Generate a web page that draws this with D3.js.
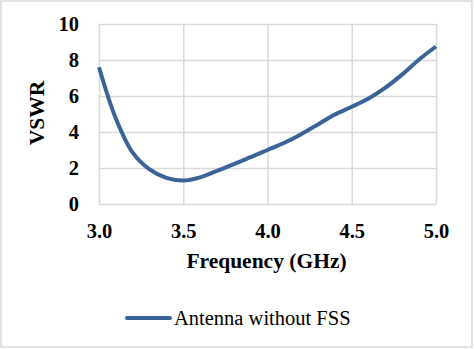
<!DOCTYPE html>
<html>
<head>
<meta charset="utf-8">
<script src="https://cdn.jsdelivr.net/npm/d3@7"></script>
<style>
  body { margin: 0; background: #fff; }
  svg { display: block; }
  svg text { font-family: "Liberation Serif", "Times New Roman", "DejaVu Serif", serif; }
</style>
</head>
<body>
<div id="chart"></div>
<script>
// frequency (GHz) and VSWR
const freqs = [3.0, 3.1, 3.2, 3.3, 3.4, 3.5, 3.6, 3.7, 3.8, 3.9, 4.0,
               4.1, 4.2, 4.3, 4.4, 4.5, 4.6, 4.7, 4.8, 4.9, 5.0];
const vswr = [7.6, 4.75, 2.85, 1.92, 1.45, 1.3, 1.48, 1.84, 2.22, 2.6, 3.0,
              3.4, 3.88, 4.42, 4.97, 5.4, 5.86, 6.46, 7.2, 8.03, 8.75];
const xTicks = [3.0, 3.5, 4.0, 4.5, 5.0];
const yTicks = [0, 2, 4, 6, 8, 10];
const seriesName = "Antenna without FSS";

const W = 474, H = 349;
const margin = { top: 24, right: 38, bottom: 145, left: 99 };
const width = W - margin.left - margin.right,
      height = H - margin.top - margin.bottom;

const lineColor = "#3a6396";
const gridColor = "#d9d9d9";
const serif = "Liberation Serif, Times New Roman, DejaVu Serif, serif";

const svg = d3.select("#chart")
    .append("svg")
    .attr("width", W)
    .attr("height", H);

// outer chart border
svg.append("rect")
    .attr("x", 1).attr("y", 1)
    .attr("width", W - 3).attr("height", H - 3)
    .attr("fill", "#fff")
    .attr("stroke", gridColor)
    .attr("stroke-width", 1.5);

const g = svg.append("g")
    .attr("transform", "translate(" + margin.left + "," + margin.top + ")");

const xScale = d3.scaleLinear().domain([3, 5]).range([0, width]);
const yScale = d3.scaleLinear().domain([0, 10]).range([height, 0]);

// grid + y labels
const yAxis = g.append("g")
    .call(d3.axisLeft(yScale).tickValues(yTicks).tickSize(-width).tickPadding(20)
        .tickFormat(d3.format("d")));
yAxis.attr("font-family", null);
yAxis.select(".domain").remove();
yAxis.selectAll("line").attr("stroke", gridColor).attr("stroke-width", 1.5);
yAxis.selectAll("text")
    .style("font-family", serif).attr("font-size", 20.5).attr("font-weight", "bold")
    .attr("fill", "#000");

const xAxis = g.append("g")
    .attr("transform", "translate(0," + height + ")")
    .call(d3.axisBottom(xScale).tickValues(xTicks).tickSize(-height).tickPadding(19)
        .tickFormat(d3.format(".1f")));
xAxis.attr("font-family", null);
xAxis.select(".domain").remove();
xAxis.selectAll("line").attr("stroke", gridColor).attr("stroke-width", 1.5);
xAxis.selectAll("text")
    .style("font-family", serif).attr("font-size", 20.5).attr("font-weight", "bold")
    .attr("fill", "#000");

// axis titles
g.append("text")
    .attr("x", width / 2 - 1)
    .attr("y", height + 64)
    .attr("text-anchor", "middle")
    .style("font-family", serif).attr("font-size", 21.5).attr("font-weight", "bold")
    .text("Frequency (GHz)");

g.append("text")
    .attr("transform", "translate(" + (-55) + "," + (height / 2 - 1) + ") rotate(-90)")
    .attr("text-anchor", "middle")
    .style("font-family", serif).attr("font-size", 21.5).attr("font-weight", "bold")
    .text("VSWR");

// series
const line = d3.line()
    .x(function (d, i) { return xScale(freqs[i]); })
    .y(function (d) { return yScale(d); })
    .curve(d3.curveCatmullRom.alpha(0.5));

g.append("path")
    .datum(vswr)
    .attr("fill", "none")
    .attr("stroke", lineColor)
    .attr("stroke-width", 4)
    .attr("stroke-linejoin", "round")
    .attr("d", line);

// legend
const legend = svg.append("g").attr("transform", "translate(127,318)");
legend.append("line")
    .attr("x1", 0).attr("x2", 43)
    .attr("y1", 0).attr("y2", 0)
    .attr("stroke", lineColor)
    .attr("stroke-width", 4)
    .attr("stroke-linecap", "round");
legend.append("text")
    .attr("x", 47)
    .attr("y", 7)
    .style("font-family", serif).attr("font-size", 20.5)
    .attr("fill", "#000")
    .text(seriesName);
</script>
</body>
</html>
